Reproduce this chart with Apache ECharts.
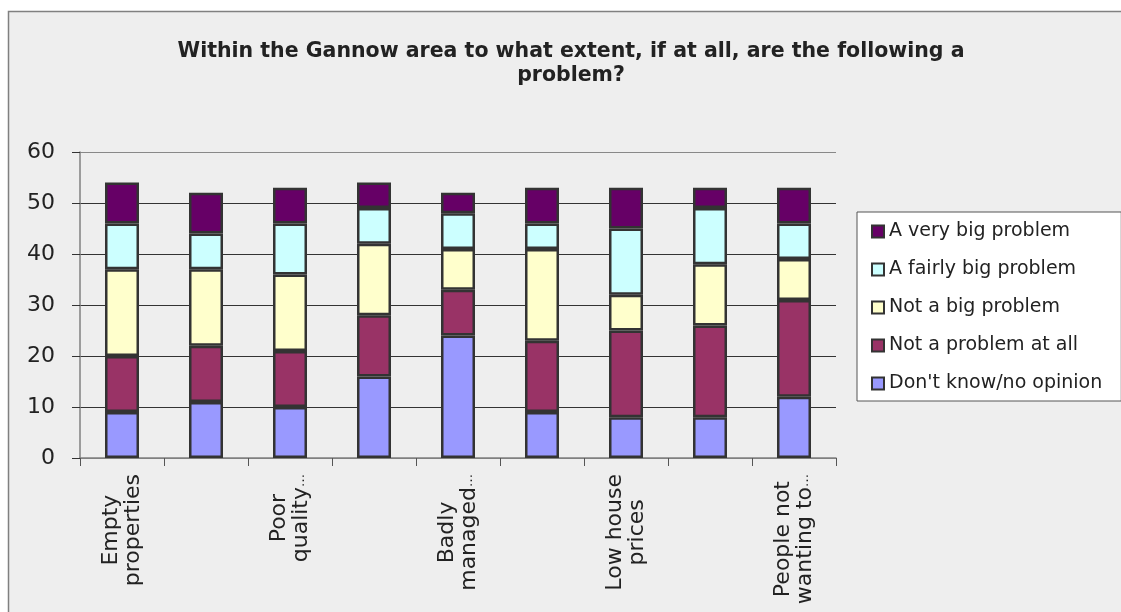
<!DOCTYPE html>
<html>
<head>
<meta charset="utf-8">
<title>Gannow area survey</title>
<script src="https://cdn.jsdelivr.net/npm/echarts@6/dist/echarts.min.js"></script>
<style>
  html, body { margin: 0; padding: 0; background: #ffffff; }
  #chart { width: 1121px; height: 612px; }
</style>
</head>
<body>
<div id="chart"></div>
<script>
// Survey question categories (bottom to top stacking, one value per category)
const categories = [
  'Empty properties',
  'Rented properties',
  'Poor quality housing',
  'Overcrowded housing',
  'Badly managed properties',
  'Shortage of housing',
  'Low house prices',
  'High house prices',
  'People not wanting to live here'
];

// Wrapped, truncated tick text; blank entries are skipped on the axis
const tickLabels = [
  'Empty\nproperties', '', 'Poor\nquality…', '', 'Badly\nmanaged…',
  '', 'Low house\nprices', '', 'People not\nwanting to…'
];

const dontKnow        = [9, 11, 10, 16, 24, 9, 8, 8, 12];
const notAProblem     = [11, 11, 11, 12, 9, 14, 17, 18, 19];
const notBig          = [17, 15, 15, 14, 8, 18, 7, 12, 8];
const fairlyBig       = [9, 7, 10, 7, 7, 5, 13, 11, 7];
const veryBig         = [8, 8, 7, 5, 4, 7, 8, 4, 7];

const yTicks = { min: 0, max: 60, interval: 10 };

const FONT = '"DejaVu Sans", Verdana, sans-serif';

const seriesDefs = [
  { name: "Don't know/no opinion", data: dontKnow,    color: '#9999FF' },
  { name: 'Not a problem at all',  data: notAProblem, color: '#993366' },
  { name: 'Not a big problem',     data: notBig,      color: '#FFFFCC' },
  { name: 'A fairly big problem',  data: fairlyBig,   color: '#CCFFFF' },
  { name: 'A very big problem',    data: veryBig,     color: '#660066' }
];

// Each label line is centred within its block; a trailing ellipsis is drawn small
function richLine(line) {
  if (line.endsWith('…')) {
    return '{c|' + line.slice(0, -1) + '}{e|…}';
  }
  return '{c|' + line + '}';
}

const chart = echarts.init(document.getElementById('chart'), null, { renderer: 'canvas' });

chart.setOption({
  backgroundColor: '#ffffff',
  animation: false,
  graphic: [
    {
      type: 'rect',
      z: -10,
      shape: { x: 8.5, y: 11.5, width: 1130, height: 620 },
      style: { fill: '#EEEEEE', stroke: '#808080', lineWidth: 1.5 }
    },
    {
      type: 'text',
      z: 10,
      x: 571,
      y: 40,
      style: {
        text: 'Within the Gannow area to what extent, if at all, are the following a\nproblem?',
        fill: '#222222',
        font: 'bold 20.5px "DejaVu Sans", sans-serif',
        align: 'center',
        verticalAlign: 'top',
        lineHeight: 24
      }
    }
  ],
  legend: {
    orient: 'vertical',
    left: 857,
    top: 212,
    selectedMode: false,
    data: seriesDefs.map(s => s.name).reverse(),
    backgroundColor: '#ffffff',
    borderColor: '#555555',
    borderWidth: 1,
    padding: [10, 19, 8, 14],
    itemWidth: 12,
    itemHeight: 12,
    itemGap: 19,
    icon: 'rect',
    itemStyle: { borderColor: '#333333', borderWidth: 2 },
    textStyle: { fontFamily: FONT, fontSize: 19, color: '#222222' }
  },
  grid: {
    left: 80, right: 285, top: 152, bottom: 154,
    containLabel: false,
    outerBoundsMode: 'none'
  },
  xAxis: {
    type: 'category',
    data: categories,
    boundaryGap: true,
    axisLine: { lineStyle: { color: '#808080', width: 1.5 } },
    axisTick: { show: true, interval: 0, length: 8, lineStyle: { color: '#555555' } },
    axisLabel: {
      interval: 0,
      rotate: 90,
      margin: 16,
      hideOverlap: false,
      fontFamily: FONT,
      fontSize: 22,
      lineHeight: 22,
      color: '#222222',
      formatter: (value, index) => {
        const t = tickLabels[index];
        if (!t) return '';
        return t.split('\n').map(richLine).join('\n');
      },
      rich: {
        c: { align: 'center', fontFamily: FONT, fontSize: 22, lineHeight: 22, color: '#222222' },
        e: { align: 'center', fontFamily: FONT, fontSize: 13, lineHeight: 22, color: '#222222' }
      }
    },
    splitLine: { show: false }
  },
  yAxis: {
    type: 'value',
    min: yTicks.min,
    max: yTicks.max,
    interval: yTicks.interval,
    axisLine: { show: true, lineStyle: { color: '#808080', width: 1.5 } },
    axisTick: { show: true, length: 8, lineStyle: { color: '#333333' } },
    axisLabel: { margin: 25, fontFamily: FONT, fontSize: 22, color: '#222222' },
    splitLine: {
      show: true,
      lineStyle: {
        color: ['#808080', '#333333', '#333333', '#333333', '#333333', '#333333', '#888888'],
        width: 1
      }
    }
  },
  series: seriesDefs.map(s => ({
    name: s.name,
    type: 'bar',
    stack: 'total',
    barWidth: 34,
    data: s.data,
    itemStyle: { color: s.color, borderColor: '#333333', borderWidth: 2.5 },
    emphasis: { disabled: true }
  }))
});
</script>
</body>
</html>
